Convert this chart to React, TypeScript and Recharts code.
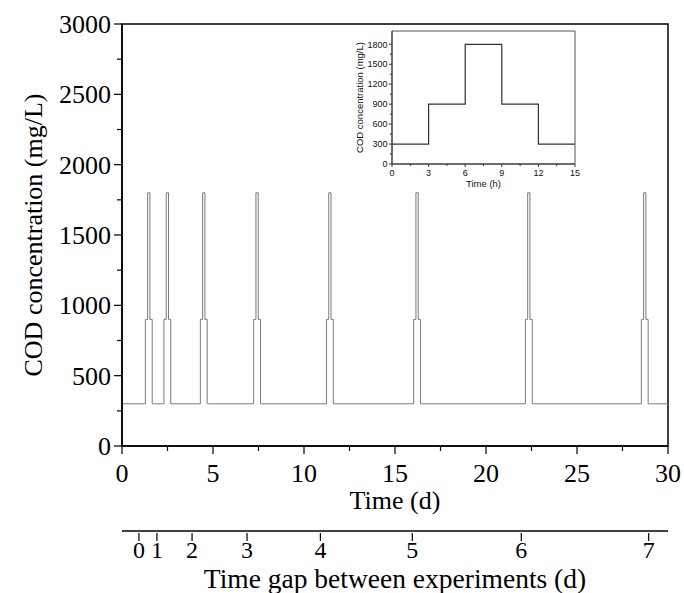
import React from "react";
import { LineChart, Line, XAxis, YAxis, ReferenceArea, Label } from "recharts";

const profileHours = [0, 3, 6, 9, 12, 15];
const profileCod = [300, 900, 1800, 900, 300, 300];

// start of each experiment on the 30-day run (d)
const experimentStarts = [1.16, 2.18, 4.18, 7.11, 11.11, 15.9, 22.04, 28.41];
const baseCod = 300;
const runEnd = 30;

const timeTicks = [0, 2.5, 5, 7.5, 10, 12.5, 15, 17.5, 20, 22.5, 25, 27.5, 30];
const codTicks = [0, 250, 500, 750, 1000, 1250, 1500, 1750, 2000, 2250, 2500, 2750, 3000];
const gapTickDays = [0.93, 1.92, 3.85, 6.87, 10.9, 15.95, 21.94, 28.94];
const gapLabels = ["0", "1", "2", "3", "4", "5", "6", "7"];

const insetHourTicks = [0, 1.5, 3, 4.5, 6, 7.5, 9, 10.5, 12, 13.5, 15];
const insetCodTicks = [0, 150, 300, 450, 600, 750, 900, 1050, 1200, 1350, 1500, 1650, 1800];

const mainData: { t: number; cod: number }[] = [{ t: 0, cod: baseCod }];
experimentStarts.forEach((s) => {
  profileHours.forEach((h, i) => {
    if (i > 0) mainData.push({ t: s + h / 24, cod: profileCod[i] });
  });
});
mainData.push({ t: runEnd, cod: baseCod });

const insetData = profileHours.map((h, i) => ({ h, cod: profileCod[i] }));

const SERIF = "'Liberation Serif', 'Times New Roman', serif";
const SANS = "'Liberation Sans', Arial, sans-serif";

const MainXTick = (p: any) => {
  const major = p.payload.value % 5 === 0;
  return (
    <g>
      <line x1={p.x} x2={p.x} y1={p.y} y2={p.y + (major ? 8 : 5)} stroke="#000" strokeWidth={1.2} />
      {major && (
        <text x={p.x} y={p.y + 36} textAnchor="middle" fontSize={26} fontFamily={SERIF} fill="#000">
          {p.payload.value}
        </text>
      )}
    </g>
  );
};

const MainYTick = (p: any) => {
  const major = p.payload.value % 500 === 0;
  return (
    <g>
      <line x1={p.x} x2={p.x - (major ? 8 : 5)} y1={p.y} y2={p.y} stroke="#000" strokeWidth={1.2} />
      {major && (
        <text x={p.x - 11} y={p.y + 9} textAnchor="end" fontSize={26} fontFamily={SERIF} fill="#000">
          {p.payload.value}
        </text>
      )}
    </g>
  );
};

const GapTick = (p: any) => (
  <g>
    <line x1={p.x} x2={p.x} y1={p.y + 2} y2={p.y + 10} stroke="#000" strokeWidth={1.2} />
    <text x={p.x} y={p.y + 27} textAnchor="middle" fontSize={24} fontFamily={SERIF} fill="#000">
      {gapLabels[p.index]}
    </text>
  </g>
);

const InsetXTick = (p: any) => {
  const major = p.payload.value % 3 === 0;
  return (
    <g>
      <line x1={p.x} x2={p.x} y1={p.y} y2={p.y + (major ? 3 : 2)} stroke="#333" strokeWidth={1} />
      {major && (
        <text x={p.x} y={p.y + 12} textAnchor="middle" fontSize={9} fontFamily={SANS} fill="#111">
          {p.payload.value}
        </text>
      )}
    </g>
  );
};

const InsetYTick = (p: any) => {
  const major = p.payload.value % 300 === 0;
  return (
    <g>
      <line x1={p.x} x2={p.x - (major ? 3 : 2)} y1={p.y} y2={p.y} stroke="#333" strokeWidth={1} />
      {major && (
        <text x={p.x - 4.5} y={p.y + 3.2} textAnchor="end" fontSize={9} fontFamily={SANS} fill="#111">
          {p.payload.value}
        </text>
      )}
    </g>
  );
};

export default function App() {
  return (
    <div style={{ position: "absolute", left: 0, top: 0, width: 684, height: 593, background: "#fff" }}>
      <LineChart width={684} height={593} data={mainData} margin={{ top: 24, right: 16, left: 0, bottom: 0 }}>
        <XAxis
          xAxisId="a_time"
          dataKey="t"
          type="number"
          domain={[0, 30]}
          ticks={timeTicks}
          interval={0}
          tick={<MainXTick />}
          tickSize={0}
          tickMargin={0}
          tickLine={false}
          height={85}
          axisLine={{ stroke: "#000", strokeWidth: 1.5 }}
        >
          <Label value="Time (d)" position="insideBottom" offset={22} fontSize={26} fontFamily={SERIF} fill="#000" />
        </XAxis>
        <XAxis
          xAxisId="b_gap"
          dataKey="t"
          type="number"
          domain={[0, 30]}
          allowDataOverflow
          ticks={gapTickDays}
          interval={0}
          tick={<GapTick />}
          tickSize={0}
          tickMargin={0}
          tickLine={false}
          height={62}
          axisLine={{ stroke: "#000", strokeWidth: 1.5 }}
        >
          <Label value="Time gap between experiments (d)" position="insideBottom" offset={5} fontSize={27.5} fontFamily={SERIF} fill="#000" />
        </XAxis>
        <YAxis
          type="number"
          domain={[0, 3000]}
          ticks={codTicks}
          interval={0}
          tick={<MainYTick />}
          tickSize={0}
          tickMargin={0}
          tickLine={false}
          width={122}
          axisLine={{ stroke: "#000", strokeWidth: 1.5 }}
        >
          <Label
            value="COD concentration (mg/L)"
            position="insideLeft"
            angle={-90}
            offset={33}
            fontSize={26}
            fontFamily={SERIF}
            fill="#000"
            style={{ textAnchor: "middle" }}
          />
        </YAxis>
        <ReferenceArea xAxisId="a_time" x1={0} x2={30} y1={0} y2={3000} fill="none" stroke="#000" strokeWidth={1.5} />
        <Line
          xAxisId="a_time"
          type="stepAfter"
          dataKey="cod"
          stroke="#7a7a7a"
          strokeWidth={1}
          dot={false}
          isAnimationActive={false}
        />
      </LineChart>

      <div style={{ position: "absolute", left: 340, top: 25, width: 245, height: 170 }}>
        <LineChart width={245} height={170} data={insetData} margin={{ top: 6, right: 10, left: 0, bottom: 0 }}>
          <XAxis
            dataKey="h"
            type="number"
            domain={[0, 15]}
            ticks={insetHourTicks}
            interval={0}
            tick={<InsetXTick />}
            tickSize={0}
            tickMargin={0}
            tickLine={false}
            height={31}
            axisLine={{ stroke: "#333", strokeWidth: 1 }}
          >
            <Label value="Time (h)" position="insideBottom" offset={8.5} fontSize={9.5} fontFamily={SANS} fill="#111" />
          </XAxis>
          <YAxis
            type="number"
            domain={[0, 2000]}
            ticks={insetCodTicks}
            interval={0}
            tick={<InsetYTick />}
            tickSize={0}
            tickMargin={0}
            tickLine={false}
            width={52}
            axisLine={{ stroke: "#333", strokeWidth: 1 }}
          >
            <Label
              value="COD concentration (mg/L)"
              position="insideLeft"
              angle={-90}
              offset={20}
              fontSize={9.5}
              fontFamily={SANS}
              fill="#111"
              style={{ textAnchor: "middle" }}
            />
          </YAxis>
          <ReferenceArea x1={0} x2={15} y1={0} y2={2000} fill="none" stroke="#555" strokeWidth={1} />
          <Line
            type="stepAfter"
            dataKey="cod"
            stroke="#333"
            strokeWidth={1.2}
            dot={false}
            isAnimationActive={false}
          />
        </LineChart>
      </div>
    </div>
  );
}
